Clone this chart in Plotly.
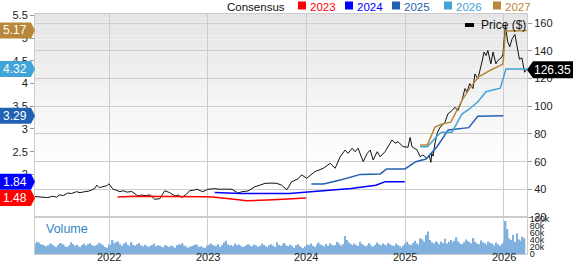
import plotly.graph_objects as go
import pandas as pd

# ---------------- data ----------------
price_dates = [
    "2021-04-01", "2021-04-20", "2021-05-18", "2021-06-05", "2021-06-20", "2021-07-01", "2021-07-15",
    "2021-07-31", "2021-08-15", "2021-09-02", "2021-09-15", "2021-10-02", "2021-10-15", "2021-10-28",
    "2021-11-08", "2021-11-16", "2021-11-25", "2021-12-04", "2021-12-12", "2021-12-23", "2021-12-31",
    "2022-01-07", "2022-01-15", "2022-01-25", "2022-02-10", "2022-02-22", "2022-03-07", "2022-03-26",
    "2022-04-05", "2022-04-17", "2022-05-02", "2022-05-15", "2022-06-01", "2022-06-19", "2022-07-07",
    "2022-07-18", "2022-07-26", "2022-08-13", "2022-09-01", "2022-09-15", "2022-09-27", "2022-10-15",
    "2022-10-26", "2022-11-10", "2022-11-22", "2022-12-14", "2023-01-01", "2023-01-27", "2023-02-15",
    "2023-03-05", "2023-04-01", "2023-04-23", "2023-05-08", "2023-05-30", "2023-06-25", "2023-07-13",
    "2023-08-01", "2023-08-27", "2023-09-14", "2023-10-02", "2023-10-21", "2023-11-08", "2023-12-01",
    "2023-12-15", "2024-01-03", "2024-02-02", "2024-03-04", "2024-03-30", "2024-04-17", "2024-05-06",
    "2024-05-24", "2024-06-04", "2024-06-19", "2024-06-30", "2024-07-11", "2024-07-30", "2024-08-14",
    "2024-08-25", "2024-09-05", "2024-09-20", "2024-10-01", "2024-10-19", "2024-10-30", "2024-11-14",
    "2024-11-25", "2024-12-06", "2024-12-25", "2025-01-12", "2025-01-20", "2025-01-27", "2025-02-15",
    "2025-02-26", "2025-03-08", "2025-03-23", "2025-04-01", "2025-04-07", "2025-04-10", "2025-04-15",
    "2025-04-22", "2025-04-30", "2025-05-11", "2025-05-18", "2025-05-29", "2025-06-09", "2025-06-24",
    "2025-07-05", "2025-07-16", "2025-07-31", "2025-08-11", "2025-08-18", "2025-08-29", "2025-09-10",
    "2025-09-17", "2025-09-28", "2025-10-13", "2025-10-21", "2025-10-28", "2025-11-04", "2025-11-15",
    "2025-11-23", "2025-12-04", "2025-12-11", "2025-12-26", "2025-12-30", "2026-01-08", "2026-01-16",
    "2026-01-24", "2026-02-02", "2026-02-12", "2026-02-20", "2026-03-01", "2026-03-10", "2026-03-20",
    "2026-03-27",
]
price_values = [
    34.8, 34.3, 34.0, 35.0, 34.4, 36.0, 35.5,
    37.3, 37.0, 38.3, 37.6, 38.3, 38.6, 39.5,
    40.5, 43.0, 41.2, 41.7, 42.2, 42.6, 44.0,
    42.0, 40.0, 39.5, 38.3, 39.0, 38.0, 38.4,
    36.8, 35.2, 35.9, 35.4, 36.0, 32.8, 33.2,
    36.5, 39.0, 37.6, 35.2, 35.8, 34.1, 36.6,
    39.0, 39.4, 40.0, 38.3, 40.0, 40.5, 40.0,
    40.2, 40.0, 37.3, 38.3, 38.8, 41.9, 43.0,
    44.3, 44.5, 44.3, 43.0, 39.6, 45.5, 47.5,
    50.4, 48.0, 52.8, 55.2, 58.8, 55.2, 63.6,
    68.4, 66.0, 69.7, 67.2, 69.7, 60.0, 66.0,
    68.4, 61.2, 67.2, 63.6, 67.2, 70.8, 75.7,
    73.3, 74.4, 70.8, 70.4, 77.5, 70.8, 68.4,
    63.6, 64.8, 62.4, 64.1, 59.5, 66.0, 64.0,
    73.3, 80.5, 85.0, 86.0, 88.5, 94.5, 96.9,
    99.3, 96.9, 104.3, 112.8, 110.3, 116.4, 112.8,
    123.4, 119.8, 132.0, 139.2, 136.7, 140.3, 130.7,
    139.2, 130.7, 133.1, 135.5, 138.0, 159.0, 147.0,
    143.0, 148.8, 152.0, 142.0, 134.0, 135.0, 124.6,
    126.35,
]

eps_2023_dates = ["2022-02-01", "2022-04-01", "2022-12-15", "2023-01-20", "2023-04-25",
                  "2023-05-25", "2023-09-01", "2023-12-31"]
eps_2023 = [1.50, 1.52, 1.51, 1.50, 1.44, 1.42, 1.44, 1.48]

eps_2024_dates = ["2023-01-27", "2023-05-01", "2023-10-30", "2024-01-05", "2024-06-15",
                  "2024-09-15", "2024-10-20", "2024-12-31"]
eps_2024 = [1.60, 1.58, 1.58, 1.61, 1.69, 1.76, 1.84, 1.84]

eps_2025_dates = ["2024-01-20", "2024-03-05", "2024-05-10", "2024-07-20", "2024-10-01",
                  "2024-10-25", "2025-01-01", "2025-02-10", "2025-03-20", "2025-05-01",
                  "2025-06-10", "2025-08-25", "2025-09-28", "2025-12-31"]
eps_2025 = [1.79, 1.79, 1.88, 2.00, 2.01, 2.12, 2.12, 2.28, 2.34, 2.62, 2.98, 3.03, 3.28, 3.29]

eps_2026_dates = ["2025-02-26", "2025-03-25", "2025-05-05", "2025-05-18", "2025-06-24",
                  "2025-07-31", "2025-08-25", "2025-09-28", "2025-10-28", "2025-12-20",
                  "2026-01-10", "2026-03-29"]
eps_2026 = [2.61, 2.61, 2.88, 2.93, 2.93, 3.33, 3.43, 3.60, 3.82, 3.90, 4.32, 4.32]

eps_2027_dates = ["2025-02-26", "2025-03-25", "2025-04-22", "2025-05-18", "2025-06-20",
                  "2025-07-15", "2025-08-01", "2025-08-29", "2025-10-01", "2025-11-15",
                  "2025-12-30", "2026-01-08", "2026-03-29"]
eps_2027 = [2.65, 2.65, 3.04, 3.11, 3.15, 3.46, 3.64, 3.90, 4.15, 4.30, 4.43, 5.16, 5.17]

consensus_years = ["2023", "2024", "2025", "2026", "2027"]
consensus_latest = [1.48, 1.84, 3.29, 4.32, 5.17]
last_price = 126.35

# weekly volume, thousands of shares
vol_2021 = [30, 35, 33, 28, 26, 24, 22, 25, 30, 28, 24, 20, 26, 32, 30, 28, 22, 20, 25, 34,
            29, 24, 27, 22, 20, 26, 30, 24, 28, 31, 26, 22, 24, 27, 32, 29, 25, 20, 18]
vol_2022 = [28, 26, 40, 30, 34, 36, 28, 24, 30, 33, 27, 22, 34, 26, 24, 28, 32, 25, 22, 27,
            24, 20, 23, 26, 30, 22, 25, 24, 21, 19, 26, 23, 20, 24, 22, 18, 25, 28, 26, 31,
            24, 22, 18, 21, 23, 26, 28, 25, 20, 22, 19, 17]
vol_2023 = [24, 27, 30, 26, 22, 24, 28, 20, 26, 33, 38, 28, 24, 26, 22, 30, 25, 27, 24, 20,
            23, 26, 28, 24, 22, 27, 25, 21, 24, 30, 26, 22, 19, 25, 28, 24, 20, 34, 26, 23,
            29, 31, 25, 22, 27, 24, 18, 25, 28, 22, 19, 17]
vol_2024 = [22, 28, 26, 30, 24, 20, 27, 33, 28, 25, 22, 29, 24, 31, 27, 23, 26, 35, 30, 24,
            28, 52, 40, 33, 28, 25, 30, 26, 23, 35, 29, 25, 22, 27, 31, 24, 21, 26, 33, 28,
            25, 30, 27, 24, 32, 28, 25, 23, 30, 26, 22, 18]
vol_2025 = [24, 30, 35, 28, 26, 32, 38, 30, 27, 45, 42, 36, 55, 65, 40, 34, 30, 37, 33, 28,
            36, 31, 44, 30, 35, 40, 33, 38, 48, 36, 30, 28, 34, 42, 37, 33, 30, 46, 35, 30,
            28, 39, 34, 31, 27, 36, 32, 30, 25, 33, 28, 24]
vol_2026 = [30, 38, 95, 72, 45, 40, 55, 35, 60, 42, 38, 50, 45]
vol_values = vol_2021 + vol_2022 + vol_2023 + vol_2024 + vol_2025 + vol_2026
vol_dates = pd.date_range("2021-04-02", periods=len(vol_values), freq="W-FRI")

year_ticks = ["2022-01-01", "2023-01-01", "2024-01-01", "2025-01-01", "2026-01-01"]
year_labels = ["2022", "2023", "2024", "2025", "2026"]
price_ticks = [20, 40, 60, 80, 100, 120, 140, 160]
eps_ticks = [2, 2.5, 3, 3.5, 4, 4.5, 5, 5.5]
vol_ticks = [0, 20, 40, 60, 80, 100]
vol_tick_labels = ["0", "20k", "40k", "60k", "80k", "100k"]

# ---------------- styling ----------------
W, H = 573, 264
ML, MR, MT, MB = 35, 46, 14, 10
PW = W - ML - MR
PH = H - MT - MB
VOL_FRAC = 37 / PH
COLORS = {"2023": "#ff0000", "2024": "#0000ff", "2025": "#2161b3",
          "2026": "#40a4d6", "2027": "#b8873a"}
FONT = "Arial, Liberation Sans, sans-serif"


def px_x(px):
    return (px - ML) / PW


def px_y(py):
    return (H - MB - py) / PH


fig = go.Figure()

fig.add_trace(go.Bar(x=vol_dates, y=vol_values, marker=dict(color="#80b1de", line_width=0),
                     xaxis="x", yaxis="y3", hoverinfo="skip"))

fig.add_trace(go.Scatter(x=price_dates, y=price_values, mode="lines",
                         line=dict(color="#111111", width=1), xaxis="x", yaxis="y"))

for yr, d, v in [("2023", eps_2023_dates, eps_2023), ("2024", eps_2024_dates, eps_2024),
                 ("2025", eps_2025_dates, eps_2025), ("2026", eps_2026_dates, eps_2026),
                 ("2027", eps_2027_dates, eps_2027)]:
    fig.add_trace(go.Scatter(x=d, y=v, mode="lines", line=dict(color=COLORS[yr], width=1.5),
                             xaxis="x", yaxis="y2"))

shapes = []
# gradient background
n = 36
top, bottom = 1.0, 0.36
for i in range(n):
    y1 = top - i * (top - bottom) / n
    y0 = top - (i + 1) * (top - bottom) / n
    c = int(round(229 + (255 - 229) * i / (n - 1)))
    shapes.append(dict(type="rect", xref="paper", yref="paper", x0=0, x1=1, y0=y0, y1=y1,
                       fillcolor=f"rgb({c},{c},{c})", line_width=0, layer="below"))

annotations = []
# left value tags
for yr, val in zip(consensus_years, consensus_latest):
    shapes.append(dict(type="path", xref="paper", yref="y2", xsizemode="pixel", ysizemode="pixel",
                       xanchor=0, yanchor=val,
                       path="M -35,-8 L -4,-8 L 0,0 L -4,8 L -35,8 Z",
                       fillcolor=COLORS[yr], line_width=0, layer="above"))
    annotations.append(dict(xref="paper", yref="y2", x=px_x(15), y=val, text=f"{val:.2f}",
                            showarrow=False, xanchor="center", yanchor="middle",
                            font=dict(color="white", size=12, family=FONT)))

# right price tag
shapes.append(dict(type="path", xref="paper", yref="y", xsizemode="pixel", ysizemode="pixel",
                   xanchor=1, yanchor=last_price,
                   path="M 0,0 L 6,-8.5 L 46,-8.5 L 46,8.5 L 6,8.5 Z",
                   fillcolor="#000000", line_width=0, layer="above"))
annotations.append(dict(xref="paper", yref="y", x=px_x(552), y=last_price, text=f"{last_price:.2f}",
                        showarrow=False, xanchor="center", yanchor="middle",
                        font=dict(color="white", size=12, family=FONT)))

# Price legend
shapes.append(dict(type="rect", xref="paper", yref="paper", x0=px_x(465), x1=px_x(474),
                   y0=px_y(27), y1=px_y(23), fillcolor="#000000", line_width=0, layer="above"))
annotations.append(dict(xref="paper", yref="paper", x=px_x(479), y=px_y(25), text="Price ($)",
                        showarrow=False, xanchor="left", yanchor="middle",
                        font=dict(color="#111111", size=12, family=FONT)))

# top consensus legend
legend_top = px_y(0)
annotations.append(dict(xref="paper", yref="paper", x=px_x(286), y=legend_top, text="Consensus",
                        showarrow=False, xanchor="right", yanchor="top", borderpad=0,
                        font=dict(color="#111111", size=11.5, family=FONT)))
legend_pos = {"2023": 298, "2024": 345, "2025": 392, "2026": 444, "2027": 493}
for yr in consensus_years:
    sx = legend_pos[yr]
    shapes.append(dict(type="rect", xref="paper", yref="paper", x0=px_x(sx), x1=px_x(sx + 8),
                       y0=px_y(9.5), y1=px_y(1.5), fillcolor=COLORS[yr], line_width=0))
    annotations.append(dict(xref="paper", yref="paper", x=px_x(sx + 11), y=legend_top, text=yr,
                            showarrow=False, xanchor="left", yanchor="top", borderpad=0,
                            font=dict(color=COLORS[yr], size=11.5, family=FONT)))

# Volume label
annotations.append(dict(xref="paper", yref="paper", x=px_x(44), y=px_y(229), text="Volume",
                        showarrow=False, xanchor="left", yanchor="middle",
                        font=dict(color="#2f86c6", size=12.5, family=FONT)))

# year labels on the date axis (placed as text so they fit the short bottom margin)
for tv, tl in zip(year_ticks, year_labels):
    annotations.append(dict(xref="x", yref="paper", x=tv, y=px_y(264), text=tl,
                            showarrow=False, xanchor="center", yanchor="bottom", borderpad=0,
                            font=dict(color="#222222", size=11, family=FONT)))

grid = "#cccccc"
fig.update_layout(
    width=W, height=H, margin=dict(l=ML, r=MR, t=MT, b=MB, pad=0, autoexpand=False),
    paper_bgcolor="white", plot_bgcolor="white", showlegend=False,
    font=dict(family=FONT, size=11, color="#222222"),
    bargap=0.2,
    xaxis=dict(type="date", range=["2021-04-01", "2026-03-29"], anchor="y3", domain=[0, 1],
               tickvals=year_ticks, showticklabels=False, showgrid=True, gridcolor=grid,
               gridwidth=1, showline=True, linecolor=grid, mirror="all", ticks="",
               zeroline=False, automargin=False),
    yaxis=dict(domain=[VOL_FRAC, 1], range=[20, 166.7], side="right", anchor="x",
               tickvals=price_ticks, showgrid=True, gridcolor=grid, showline=True,
               linecolor=grid, mirror=True, ticks="outside", ticklen=4, tickcolor="#999999",
               zeroline=False, tickfont=dict(size=11), automargin=False),
    yaxis2=dict(overlaying="y", side="left", anchor="x", range=[1.0615, 5.533],
                tickvals=eps_ticks, showgrid=False, ticks="outside", ticklen=4,
                tickcolor="#999999", zeroline=False, showline=False, tickfont=dict(size=11),
                automargin=False),
    yaxis3=dict(domain=[0, VOL_FRAC], range=[0, 106.6], side="right", anchor="x",
                tickvals=vol_ticks, ticktext=vol_tick_labels, showgrid=False, showline=True,
                linecolor=grid, mirror=True, ticks="", zeroline=False,
                tickfont=dict(size=9), automargin=False),
    shapes=shapes, annotations=annotations,
)

fig.write_html("out.html")
